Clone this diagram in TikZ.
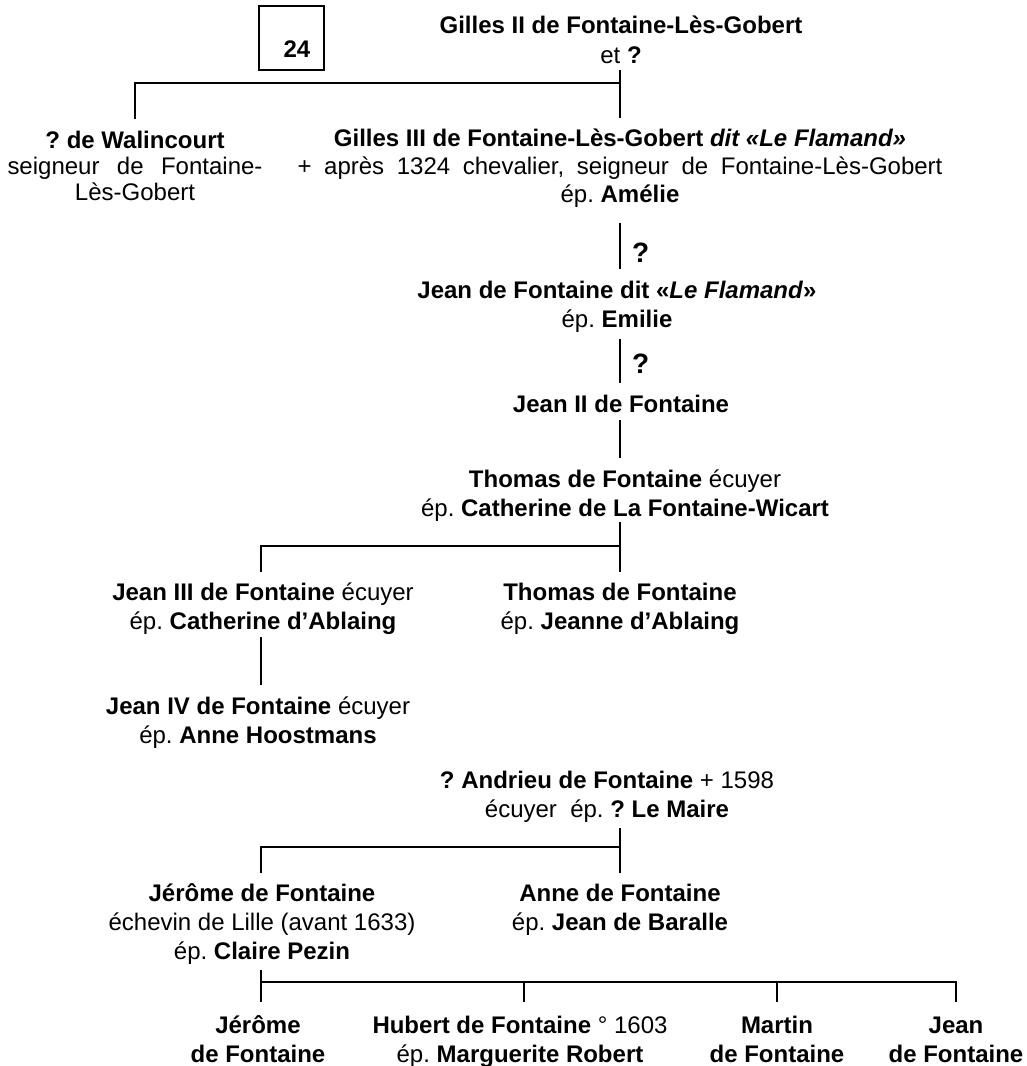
\documentclass[tikz,border=0pt]{standalone}
\usepackage{fontspec}
\setmainfont{Liberation Sans}
\frenchspacing
\begin{document}
\begin{tikzpicture}[x=1pt,y=-1pt,
  txt/.style={anchor=base, inner sep=0pt, align=center, font=\fontsize{24}{29}\selectfont},
  ln/.style={line width=2.8pt},
  qm/.style={anchor=base west, inner sep=0pt, font=\fontsize{28}{30}\selectfont\bfseries}]
\useasboundingbox (0,0) rectangle (1027,1066);
% box 24
\node[draw, line width=1.2pt, minimum width=65pt, minimum height=64pt, inner sep=0pt] (box) at (291.5,38) {};
\node[txt, font=\fontsize{24}{29}\selectfont\bfseries] (n24) at (297,57) {24};
% nodes (anchor base = baseline of the last line)
\node[txt, font=\fontsize{24}{30}\selectfont] (gilles2) at (621,63) {\textbf{Gilles II de Fontaine-Lès-Gobert}\\et \textbf{?}};
\node[txt, font=\fontsize{24}{26}\selectfont] (walin) at (135,200) {\textbf{? de Walincourt}\\\makebox[255pt][s]{seigneur de Fontaine-}\\Lès-Gobert};
\node[txt, font=\fontsize{24}{28}\selectfont] (gilles3) at (620,202) {\textbf{Gilles III de Fontaine-Lès-Gobert \textit{dit «Le Flamand»}}\\\makebox[645pt][s]{+ après 1324 chevalier, seigneur de Fontaine-Lès-Gobert}\\ép. \textbf{Amélie}};
\node[qm] (q1) at (632,262) {?};
\node[txt] (jean1) at (617,327) {\textbf{Jean de Fontaine dit «\textit{Le Flamand}»}\\ép. \textbf{Emilie}};
\node[qm] (q2) at (632,373) {?};
\node[txt] (jean2) at (621,412) {\textbf{Jean II de Fontaine}};
\node[txt] (thomas1) at (625,516) {\textbf{Thomas de Fontaine} écuyer\\ép. \textbf{Catherine de La Fontaine-Wicart}};
\node[txt] (jean3) at (263,629) {\textbf{Jean III de Fontaine} écuyer\\ép. \textbf{Catherine d’Ablaing}};
\node[txt] (thomas2) at (620,629) {\textbf{Thomas de Fontaine}\\ép. \textbf{Jeanne d’Ablaing}};
\node[txt] (jean4) at (258,743) {\textbf{Jean IV de Fontaine} écuyer\\ép. \textbf{Anne Hoostmans}};
\node[txt] (andrieu) at (607,817) {\textbf{? Andrieu de Fontaine} + 1598\\écuyer\ \ ép. \textbf{? Le Maire}};
\node[txt] (jerome) at (262,959) {\textbf{Jérôme de Fontaine}\\échevin de Lille (avant 1633)\\ép. \textbf{Claire Pezin}};
\node[txt] (anne) at (620,930) {\textbf{Anne de Fontaine}\\ép. \textbf{Jean de Baralle}};
\node[txt] (jerome2) at (258,1062) {\textbf{Jérôme}\\\textbf{de Fontaine}};
\node[txt] (hubert) at (520,1062) {\textbf{Hubert de Fontaine} ° 1603\\ép. \textbf{Marguerite Robert}};
\node[txt] (martin) at (777,1062) {\textbf{Martin}\\\textbf{de Fontaine}};
\node[txt] (jeanb) at (956,1062) {\textbf{Jean}\\\textbf{de Fontaine}};
% junction coordinates
\coordinate (g2s) at (620,70);
\coordinate (b1r) at (620,83);
\coordinate (b1l) at (135,83);
\coordinate (g3n) at (620,118);
\coordinate (wn) at (135,119);
\coordinate (g3s) at (620,223);
\coordinate (j1n) at (620,269);
\coordinate (j1s) at (620,339);
\coordinate (j2n) at (620,383);
\coordinate (j2s) at (620,420);
\coordinate (t1n) at (620,458);
\coordinate (t1s) at (620,522);
\coordinate (b2r) at (620,546);
\coordinate (b2l) at (261,546);
\coordinate (t2n) at (620,572);
\coordinate (j3n) at (261,572);
\coordinate (j3s) at (261,637);
\coordinate (j4n) at (261,685);
\coordinate (as) at (620,828);
\coordinate (b3r) at (620,847);
\coordinate (b3l) at (261,847);
\coordinate (annen) at (620,873);
\coordinate (jen) at (261,873);
\coordinate (jes) at (261,970);
\coordinate (b4l) at (261,982);
\coordinate (b4h) at (524,982);
\coordinate (b4m) at (777,982);
\coordinate (b4r) at (956,982);
\coordinate (j2bn) at (261,1002);
\coordinate (hn) at (524,1002);
\coordinate (mn) at (777,1002);
\coordinate (jbn) at (956,1002);
% connectors
\draw[ln] (g2s) -- (g3n);
\draw[ln] (b1r) -- (b1l) -- (wn);
\draw[ln] (g3s) -- (j1n);
\draw[ln] (j1s) -- (j2n);
\draw[ln] (j2s) -- (t1n);
\draw[ln] (t1s) -- (t2n);
\draw[ln] (b2r) -- (b2l) -- (j3n);
\draw[ln] (j3s) -- (j4n);
\draw[ln] (as) -- (annen);
\draw[ln] (b3r) -- (b3l) -- (jen);
\draw[ln] (jes) -- (j2bn);
\draw[ln] (b4l) -- (b4r) -- (jbn);
\draw[ln] (b4h) -- (hn);
\draw[ln] (b4m) -- (mn);
\end{tikzpicture}
\end{document}
